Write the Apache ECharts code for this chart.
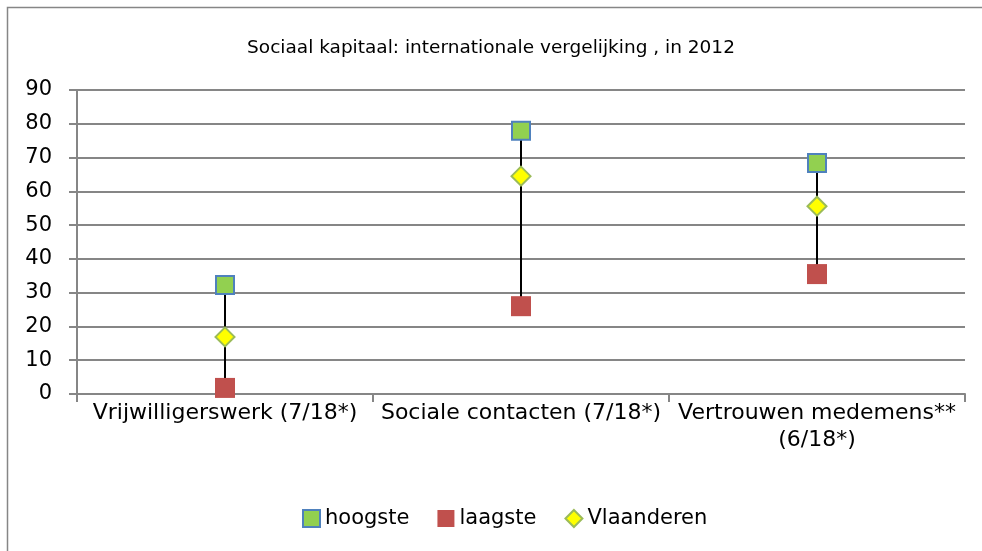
<!DOCTYPE html>
<html>
<head>
<meta charset="utf-8">
<script src="https://cdn.jsdelivr.net/npm/echarts@6/dist/echarts.min.js"></script>
<style>
  html, body { margin: 0; padding: 0; background: #fff; }
  #main { width: 982px; height: 551px; }
</style>
</head>
<body>
<div id="main"></div>
<script>
var categories = ['Vrijwilligerswerk (7/18*)', 'Sociale contacten (7/18*)', 'Vertrouwen medemens**\n(6/18*)'];
var hoogste = [32.3, 77.9, 68.4];
var laagste = [1.8, 26, 35.5];
var vlaanderen = [16.9, 64.5, 55.6];
var yTicks = { min: 0, max: 90, interval: 10 };

var font = 'DejaVu Sans';
var chart = echarts.init(document.getElementById('main'));

// hoog-laag lijnen
var hlData = categories.map(function(c, i) { return [i, laagste[i], hoogste[i]]; });

var option = {
  backgroundColor: '#fff',
  animation: false,
  title: {
    text: 'Sociaal kapitaal: internationale vergelijking , in 2012',
    left: 'center',
    top: 34,
    textStyle: { fontFamily: font, fontSize: 18.5, fontWeight: 'normal', color: '#000' }
  },
  graphic: [{
    type: 'rect',
    shape: { x: 7.5, y: 7.5, width: 1000, height: 600 },
    style: { fill: null, stroke: '#868686', lineWidth: 1.5 },
    silent: true
  }],
  legend: {
    bottom: 17,
    left: 297,
    itemGap: 28,
    itemWidth: 17,
    itemHeight: 17,
    textStyle: { fontFamily: font, fontSize: 21, color: '#000' },
    data: [
      { name: 'hoogste', icon: 'rect' },
      { name: 'laagste', icon: 'rect' },
      { name: 'Vlaanderen', icon: 'diamond' }
    ]
  },
  grid: { left: 77, right: 17, top: 90, bottom: 157, containLabel: false },
  xAxis: {
    type: 'category',
    data: categories,
    boundaryGap: true,
    axisLine: { lineStyle: { color: '#868686', width: 2 } },
    axisTick: { show: true, length: 8, lineStyle: { color: '#868686', width: 2 } },
    axisLabel: { fontFamily: font, fontSize: 22, color: '#000', margin: 6, lineHeight: 27, interval: 0 },
    splitLine: { show: false }
  },
  yAxis: {
    type: 'value',
    min: yTicks.min,
    max: yTicks.max,
    interval: yTicks.interval,
    axisLine: { show: true, lineStyle: { color: '#868686', width: 2 } },
    axisTick: { show: true, length: 8, lineStyle: { color: '#868686', width: 2 } },
    axisLabel: { fontFamily: font, fontSize: 21, color: '#000', margin: 25 },
    splitLine: { lineStyle: { color: '#868686', width: 2 } }
  },
  series: [
    {
      type: 'custom',
      name: 'hoog-laag',
      z: 1,
      silent: true,
      data: hlData,
      encode: { x: 0, y: [1, 2] },
      renderItem: function(params, api) {
        var lo = api.coord([api.value(0), api.value(1)]);
        var hi = api.coord([api.value(0), api.value(2)]);
        return {
          type: 'line',
          shape: { x1: lo[0], y1: lo[1], x2: hi[0], y2: hi[1] },
          style: { stroke: '#000', lineWidth: 2 }
        };
      }
    },
    {
      name: 'hoogste',
      type: 'scatter',
      z: 3,
      symbol: 'rect',
      symbolSize: 18,
      itemStyle: { color: '#92D050', borderColor: '#4F81BD', borderWidth: 2, opacity: 1 },
      data: hoogste
    },
    {
      name: 'laagste',
      type: 'scatter',
      z: 3,
      symbol: 'rect',
      symbolSize: 20,
      itemStyle: { color: '#C0504D', opacity: 1 },
      data: laagste
    },
    {
      name: 'Vlaanderen',
      type: 'scatter',
      z: 3,
      symbol: 'diamond',
      symbolSize: 19,
      itemStyle: { color: '#FFFF00', borderColor: '#9BBB59', borderWidth: 2, opacity: 1 },
      data: vlaanderen
    }
  ]
};
chart.setOption(option);
</script>
</body>
</html>
